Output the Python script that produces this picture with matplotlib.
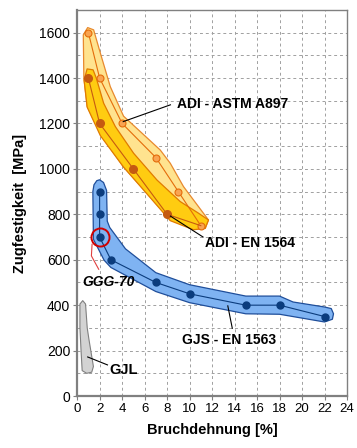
import numpy as np
import matplotlib
matplotlib.use("Agg")
import matplotlib.pyplot as plt
from matplotlib.patches import Polygon
from matplotlib.ticker import MultipleLocator

plt.rcParams['font.family'] = ['Liberation Sans', 'DejaVu Sans']

# data points (elongation %, tensile strength MPa)
astm_x = [1, 2, 4, 7, 9, 11]
astm_y = [1600, 1400, 1200, 1050, 900, 750]
en1564_x = [1, 2, 5, 8, 11]
en1564_y = [1400, 1200, 1000, 800, 750]
gjs_x = [2, 2, 2, 3, 7, 10, 15, 18, 22]
gjs_y = [900, 800, 700, 600, 500, 450, 400, 400, 350]

# envelopes of the shaded bands
astm_env_x = [0.55, 0.94, 1.47, 2.07, 2.95, 4.13, 5.62, 7.39, 8.28, 9.46, 10.79, 11.68,
              11.4, 10.4, 8.3, 6.2, 4.1, 2.1, 0.9, 0.6]
astm_env_y = [1590, 1622, 1612, 1509, 1362, 1232, 1164, 1083, 1025, 922, 834, 775,
              738, 735, 775, 893, 1010, 1150, 1275, 1400]
en_env_x = [0.89, 1.42, 1.71, 2.36, 3.40, 5.02, 7.10, 9.17, 10.79, 11.68, 11.38, 10.35,
            8.28, 6.21, 4.13, 2.07, 0.89, 0.62]
en_env_y = [1440, 1436, 1399, 1289, 1186, 1069, 951, 856, 805, 775, 738, 732,
            772, 890, 1008, 1146, 1272, 1391]
gjs_env_x = [1.4, 1.5, 1.75, 2.0, 2.35, 2.62, 2.68, 2.9, 4.3, 7.0, 10.0, 15.0, 18.0, 19.2,
             22.0, 22.6, 22.8, 22.7, 22.0, 18.0, 15.0, 10.0, 7.0, 3.0, 2.4, 1.45]
gjs_env_y = [900, 930, 948, 952, 940, 905, 770, 742, 648, 543, 490, 440, 440, 414,
             392, 385, 362, 338, 326, 360, 362, 411, 460, 566, 598, 690]
gjl_env_x = [0.25, 0.5, 0.75, 0.9, 1.05, 1.45, 1.3, 0.85, 0.45, 0.35, 0.25]
gjl_env_y = [405, 420, 405, 300, 250, 130, 105, 100, 112, 200, 300]

fig = plt.figure(figsize=(3.57, 4.48), dpi=100)
ax = fig.add_axes([0.216, 0.116, 0.756, 0.862])

ax.add_patch(Polygon(np.column_stack([astm_env_x, astm_env_y]), closed=True,
                     fc='#FFE38F', ec='#E8892E', lw=0.9, joinstyle='round', zorder=2))
ax.add_patch(Polygon(np.column_stack([en_env_x, en_env_y]), closed=True,
                     fc='#FFCC11', ec='#E07B00', lw=0.9, joinstyle='round', zorder=3))
ax.add_patch(Polygon(np.column_stack([gjs_env_x, gjs_env_y]), closed=True,
                     fc='#7FB3F2', ec='#1F4E9A', lw=0.9, joinstyle='round', zorder=2))
ax.add_patch(Polygon(np.column_stack([gjl_env_x, gjl_env_y]), closed=True,
                     fc='#D3D3D3', ec='#808080', lw=0.8, joinstyle='round', zorder=2))

ax.plot(astm_x, astm_y, '-o', color='#E46C0A', lw=0.8, ms=5,
        mfc='#F9A451', mec='#E46C0A', mew=0.8, zorder=5)
ax.plot(en1564_x[:-1], en1564_y[:-1], '-o', color='#C55A11', lw=0.8, ms=5.5,
        mfc='#C55A11', mec='#C55A11', zorder=6)
ax.plot(en1564_x[-2:], en1564_y[-2:], '-', color='#C55A11', lw=0.8, zorder=6)
ax.plot(gjs_x, gjs_y, '-o', color='#0B3C7D', lw=0.8, ms=5,
        mfc='#0B3C7D', mec='#0B3C7D', zorder=6)

# GGG-70 mark
ax.plot([2], [700], 'o', ms=13, mfc='none', mec='#D00000', mew=1.4, zorder=7)
ax.plot([1.33, 1.27, 1.92], [668, 617, 558], color='#E04040', lw=0.8, zorder=7)
ax.text(0.45, 503, 'GGG-70', fontsize=10, fontweight='bold', style='italic',
        ha='left', va='center', zorder=8)

# labels with leader lines
ax.plot([4.1, 8.3], [1208, 1282], color='black', lw=0.8, zorder=8)
ax.text(8.9, 1285, 'ADI - ASTM A897', fontsize=10, fontweight='bold',
        ha='left', va='center', zorder=8)
ax.plot([8.3, 11.2], [792, 700], color='black', lw=0.8, zorder=8)
ax.text(11.4, 673, 'ADI - EN 1564', fontsize=10, fontweight='bold',
        ha='left', va='center', zorder=8)
ax.plot([13.4, 13.8], [397, 298], color='black', lw=0.8, zorder=8)
ax.text(9.3, 247, 'GJS - EN 1563', fontsize=10, fontweight='bold',
        ha='left', va='center', zorder=8)
ax.plot([0.94, 2.7], [172, 137], color='black', lw=0.8, zorder=8)
ax.text(2.9, 115, 'GJL', fontsize=10.5, fontweight='bold',
        ha='left', va='center', zorder=8)

ax.set_xlim(0, 24)
ax.set_ylim(0, 1700)
ax.xaxis.set_major_locator(MultipleLocator(2))
ax.yaxis.set_major_locator(MultipleLocator(200))
ax.yaxis.set_minor_locator(MultipleLocator(100))
ax.grid(True, which='both', color='#A0A0A0', ls=(0, (3, 3)), lw=0.7, zorder=0)
ax.set_axisbelow(True)
ax.tick_params(which='major', length=3, color='#808080', labelsize=10, pad=2)
ax.tick_params(which='minor', length=0)
ax.tick_params(axis='x', labelsize=9.5)
for s in ax.spines.values():
    s.set_color('#808080')
    s.set_linewidth(1.0)
ax.spines['left'].set_linewidth(1.6)
ax.spines['bottom'].set_linewidth(1.6)

ax.set_xlabel('Bruchdehnung [%]', fontsize=10.5, fontweight='bold', labelpad=6)
ax.set_ylabel('Zugfestigkeit  [MPa]', fontsize=10.5, fontweight='bold', labelpad=9)

fig.savefig('out.png', dpi=100)
